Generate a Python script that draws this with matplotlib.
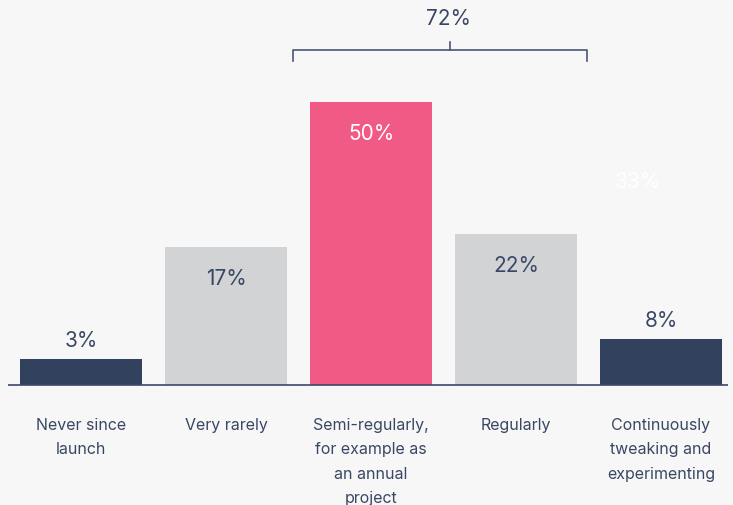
import matplotlib

matplotlib.use("Agg")
import matplotlib.pyplot as plt

# data
categories = [
    "Never since\nlaunch",
    "Very rarely",
    "Semi-regularly,\nfor example as\nan annual\nproject",
    "Regularly",
    "Continuously\ntweaking and\nexperimenting",
]
bar_heights = [4.6, 24.4, 50.0, 26.7, 8.1]
value_labels = ["3%", "17%", "50%", "22%", "8%"]
label_inside = [False, True, True, True, False]
group_label = "72%"
ghost_label = "33%"

NAVY = "#31415e"
GREY = "#d2d3d5"
PINK = "#f05a85"
BG = "#f7f7f7"
INK = "#3a4764"
bar_colors = [NAVY, GREY, PINK, GREY, NAVY]
text_colors = [INK, INK, "#ffffff", INK, INK]

plt.rcParams.update({
    "font.family": ["Inter", "DejaVu Sans"],
    "figure.facecolor": BG,
    "axes.facecolor": BG,
    "savefig.facecolor": BG,
})

W, H, DPI = 733, 506, 100
fig = plt.figure(figsize=(W / DPI, H / DPI), dpi=DPI)
# axes: x unit = 145 px, bar centres from 81 px; baseline 120 px from bottom
ax = fig.add_axes([8.5 / W, 120 / H, 725 / W, 386 / H])
ax.set_xlim(-0.5, 4.5)
ax.set_ylim(0, 386 / 5.66)
ax.axis("off")

x = list(range(len(categories)))
ax.bar(x, bar_heights, width=0.84, color=bar_colors, zorder=2)
ax.plot([-0.505, 4.46], [0, 0], color="#3b4a68", linewidth=1.2, zorder=3,
        solid_capstyle="butt", clip_on=False)

for xi, h, lab, inside, tc in zip(x, bar_heights, value_labels, label_inside, text_colors):
    dy = -31 if inside else 19
    ax.annotate(lab, (xi, h), xytext=(0, dy), textcoords="offset pixels",
                ha="center", va="center", fontsize=15, color=tc, zorder=4)

for xi, cat in zip(x, categories):
    ax.annotate(cat, (xi, 0), xytext=(0, -32), textcoords="offset pixels",
                ha="center", va="top", fontsize=11.5, color=INK,
                linespacing=1.78, annotation_clip=False)

# bracket over semi-regularly + regularly
bx0, bx1, bxc = 1.462, 3.49, 2.545
by, by_low, by_top = 59.2, 57.2, 60.6
ax.plot([bx0, bx0, bx1, bx1], [by_low, by, by, by_low], color="#4a5672",
        linewidth=1.2, clip_on=False)
ax.plot([bxc, bxc], [by, by_top], color="#4a5672", linewidth=1.2, clip_on=False)
ax.text(bxc - 0.01, 64.8, group_label, ha="center", va="center", fontsize=15,
        color=INK)

# faint white label on the right
ax.text(3.84, 36.0, ghost_label, ha="center", va="center", fontsize=15,
        color="#ffffff")

fig.savefig("out.png", dpi=DPI, facecolor=BG)
